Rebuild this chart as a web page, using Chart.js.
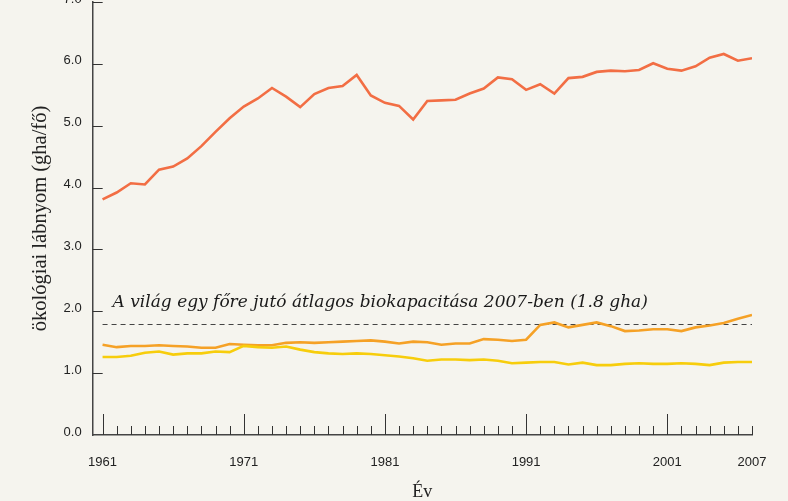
<!DOCTYPE html>
<html lang="hu">
<head>
<meta charset="utf-8">
<title>Ökológiai lábnyom</title>
<script src="https://cdn.jsdelivr.net/npm/chart.js@4"></script>
<style>
    html, body { margin: 0; padding: 0; background: #f5f4ee; overflow: hidden; }
    #wrap { position: relative; width: 788px; height: 501px; overflow: hidden; }
    /* canvas is taller than the page; the top strip is cut off */
    #wrap canvas { position: absolute; left: 0; top: -40px; }
</style>
</head>
<body>
<div id="wrap"><canvas id="footprintChart" width="788" height="541"></canvas></div>
<script>
/* --- data --- */
const years = [
    1961, 1962, 1963, 1964, 1965, 1966, 1967, 1968, 1969, 1970,
    1971, 1972, 1973, 1974, 1975, 1976, 1977, 1978, 1979, 1980,
    1981, 1982, 1983, 1984, 1985, 1986, 1987, 1988, 1989, 1990,
    1991, 1992, 1993, 1994, 1995, 1996, 1997, 1998, 1999, 2000,
    2001, 2002, 2003, 2004, 2005, 2006, 2007
];

// ökológiai lábnyom (gha/fő)
const footprint = [
    3.81, 3.92, 4.07, 4.05, 4.29, 4.34, 4.47, 4.67, 4.90, 5.12,
    5.31, 5.44, 5.61, 5.47, 5.30, 5.51, 5.61, 5.64, 5.82, 5.49,
    5.37, 5.32, 5.10, 5.40, 5.41, 5.42, 5.52, 5.60, 5.78, 5.75,
    5.58, 5.67, 5.52, 5.77, 5.79, 5.87, 5.89, 5.88, 5.90, 6.01,
    5.92, 5.89, 5.96, 6.10, 6.16, 6.05, 6.09
];

const orangeSeries = [
    1.46, 1.42, 1.44, 1.44, 1.45, 1.44, 1.43, 1.41, 1.41, 1.47,
    1.46, 1.45, 1.45, 1.49, 1.50, 1.49, 1.50, 1.51, 1.52, 1.53,
    1.51, 1.48, 1.51, 1.50, 1.46, 1.48, 1.48, 1.55, 1.54, 1.52,
    1.54, 1.78, 1.82, 1.74, 1.78, 1.82, 1.76, 1.68, 1.69, 1.71,
    1.71, 1.68, 1.74, 1.77, 1.81, 1.88, 1.94
];

const yellowSeries = [
    1.26, 1.26, 1.28, 1.33, 1.35, 1.30, 1.32, 1.32, 1.35, 1.34,
    1.44, 1.42, 1.41, 1.43, 1.38, 1.34, 1.32, 1.31, 1.32, 1.31,
    1.29, 1.27, 1.24, 1.20, 1.22, 1.22, 1.21, 1.22, 1.20, 1.16,
    1.17, 1.18, 1.18, 1.14, 1.17, 1.13, 1.13, 1.15, 1.16, 1.15,
    1.15, 1.16, 1.15, 1.13, 1.17, 1.18, 1.18
];

const xTickYears = [1961, 1971, 1981, 1991, 2001, 2007];
const majorYears = [1961, 1971, 1981, 1991, 2001];

const worldBiocapacity = 1.8;
const worldLabel = 'A világ egy főre jutó átlagos biokapacitása 2007-ben (1.8 gha)';

const toPoints = vals => years.map((yr, i) => ({ x: yr, y: vals[i] }));

/* --- small tick marks drawn inside the axes --- */
const axisMarks = {
    id: 'axisMarks',
    afterDraw(chart) {
        const { ctx, chartArea, scales: { x, y } } = chart;
        ctx.save();
        ctx.strokeStyle = '#333';
        ctx.lineWidth = 1;
        ctx.beginPath();
        years.forEach(yr => {
            const px = Math.round(x.getPixelForValue(yr)) + 0.5;
            const len = majorYears.includes(yr) ? 21 : 9;
            ctx.moveTo(px, chartArea.bottom);
            ctx.lineTo(px, chartArea.bottom - len);
        });
        y.ticks.forEach(t => {
            if (t.value === 0) return;
            const py = Math.round(y.getPixelForValue(t.value)) + 0.5;
            ctx.moveTo(chartArea.left, py);
            ctx.lineTo(chartArea.left + 10, py);
        });
        ctx.stroke();
        ctx.restore();
    }
};

/* --- dashed world average line + caption --- */
const worldLine = {
    id: 'worldLine',
    beforeDatasetsDraw(chart) {
        const { ctx, scales: { x, y } } = chart;
        const py = Math.round(y.getPixelForValue(worldBiocapacity)) + 0.5;
        const x0 = x.getPixelForValue(years[0]);
        const x1 = x.getPixelForValue(years[years.length - 1]);
        ctx.save();
        ctx.strokeStyle = '#444';
        ctx.lineWidth = 1.2;
        ctx.setLineDash([5, 4]);
        ctx.beginPath();
        ctx.moveTo(x0, py);
        ctx.lineTo(x1, py);
        ctx.stroke();
        ctx.setLineDash([]);
        ctx.fillStyle = '#1a1a1a';
        ctx.font = 'italic 17px "DejaVu Serif"';
        ctx.textBaseline = 'alphabetic';
        ctx.fillText(worldLabel, x0 + 10, py - 18);
        ctx.restore();
    }
};

new Chart(document.getElementById('footprintChart'), {
    type: 'line',
    data: {
        datasets: [
            {
                data: toPoints(yellowSeries),
                borderColor: '#f7cd0c',
                borderWidth: 2.6
            },
            {
                data: toPoints(orangeSeries),
                borderColor: '#f5a126',
                borderWidth: 2.6
            },
            {
                data: toPoints(footprint),
                borderColor: '#f26e44',
                borderWidth: 2.6
            }
        ]
    },
    options: {
        responsive: false,
        animation: false,
        devicePixelRatio: 1,
        layout: { padding: { top: 42, right: 36, bottom: 0, left: 22 } },
        elements: { point: { radius: 0 }, line: { tension: 0 } },
        plugins: {
            legend: { display: false },
            tooltip: { enabled: false }
        },
        scales: {
            x: {
                type: 'linear',
                min: 1960.3,
                max: 2007,
                afterBuildTicks: axis => {
                    axis.ticks = xTickYears.map(v => ({ value: v }));
                },
                ticks: {
                    callback: v => String(v),
                    autoSkip: false,
                    maxRotation: 0,
                    padding: 21,
                    color: '#222',
                    font: { family: 'Liberation Sans', size: 13, lineHeight: 1 }
                },
                grid: { drawOnChartArea: false, drawTicks: false },
                border: { color: '#444', width: 1.5 },
                title: {
                    display: true,
                    text: 'Év',
                    color: '#222',
                    font: { family: 'Liberation Serif', size: 18, lineHeight: 1 },
                    // label box already reserves twice the tick padding
                    padding: { top: -7, bottom: 0 }
                }
            },
            y: {
                min: 0,
                max: 7,
                ticks: {
                    stepSize: 1,
                    callback: v => v.toFixed(1),
                    padding: 11,
                    labelOffset: -3,
                    color: '#222',
                    font: { family: 'Liberation Sans', size: 13 }
                },
                grid: { drawOnChartArea: false, drawTicks: false },
                border: { color: '#444', width: 1.5 },
                title: {
                    display: true,
                    text: 'ökológiai lábnyom (gha/fő)',
                    color: '#222',
                    font: { family: 'Liberation Serif', size: 20.5 },
                    padding: { top: 6, bottom: 0 }
                }
            }
        }
    },
    plugins: [worldLine, axisMarks]
});
</script>
</body>
</html>
